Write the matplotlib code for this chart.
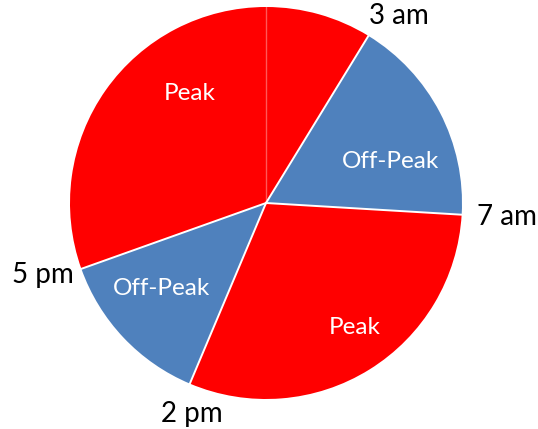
import numpy as np
import matplotlib.pyplot as plt

# Slices clockwise from 12 o'clock
shares = [8.75, 17.2, 30.4, 13.2, 30.45]
slice_names = ["", "Off-Peak", "Peak", "Off-Peak", "Peak"]
slice_colors = ["#FF0000", "#4F81BD", "#FF0000", "#4F81BD", "#FF0000"]
boundary_times = ["3 am", "7 am", "2 pm", "5 pm"]

plt.rcParams['font.family'] = ['Lato', 'DejaVu Sans']

fig = plt.figure(figsize=(5.38, 4.29), dpi=100)
ax = fig.add_axes([0, 0, 1, 1])

wedges, _ = ax.pie(shares, colors=slice_colors, startangle=90, counterclock=False,
                   radius=1.0, wedgeprops=dict(linewidth=0, edgecolor='none'))

# figure pixels -> data units (radius = 196 px, centre at 266, 203)
R_PX = 196.0
cx, cy = 266.0, 203.0
ax.set_xlim(-cx / R_PX, (538 - cx) / R_PX)
ax.set_ylim(-(429 - cy) / R_PX, cy / R_PX)
ax.set_aspect('equal')
ax.axis('off')

total = float(sum(shares))
cum = np.concatenate([[0], np.cumsum(shares)])
bound_deg = 90 - 360 * cum / total

# separator lines between slices
for i, a in enumerate(bound_deg[:-1]):
    t = np.deg2rad(a)
    if i == 0:
        ax.plot([0, np.cos(t)], [0, np.sin(t)], color='white', lw=1.0, alpha=0.35)
    else:
        ax.plot([0, np.cos(t)], [0, np.sin(t)], color='white', lw=1.4)

# inner slice labels: (distance, angle nudge in degrees)
inner_pos = [(0, 0), (0.67, -9), (0.78, 3.4), (0.69, -4), (0.68, -20)]
for i, name in enumerate(slice_names):
    if not name:
        continue
    mid = (bound_deg[i] + bound_deg[i + 1]) / 2 + inner_pos[i][1]
    t = np.deg2rad(mid)
    d = inner_pos[i][0]
    ax.text(d * np.cos(t), d * np.sin(t), name, color='white', fontsize=17.5,
            ha='center', va='center')

# time labels at slice boundaries (offset in pixels from rim)
time_offsets = [(30, 20), (45, -2), (2, -30), (-39, -6)]
for k, lab in enumerate(boundary_times):
    t = np.deg2rad(bound_deg[k + 1])
    ax.annotate(lab, xy=(np.cos(t), np.sin(t)), xytext=time_offsets[k],
                textcoords='offset pixels', ha='center', va='center',
                fontsize=20, color='black')

fig.savefig("out.png", dpi=100)
